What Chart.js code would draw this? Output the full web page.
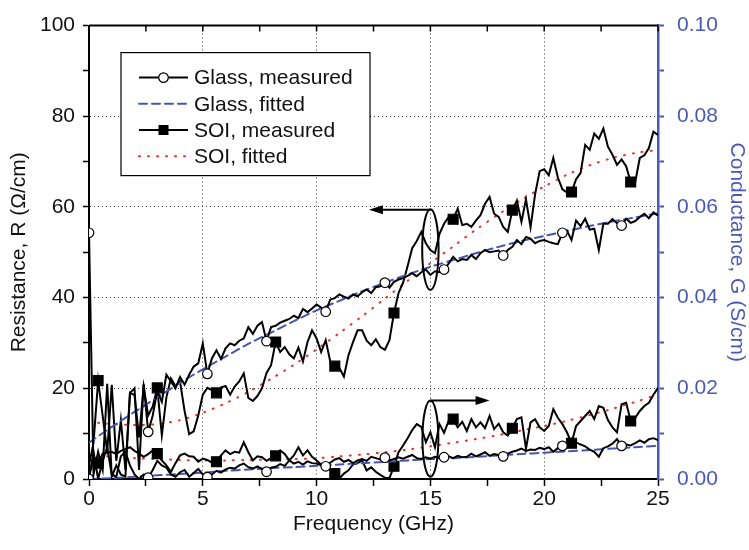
<!DOCTYPE html>
<html>
<head>
<meta charset="utf-8">
<script src="https://cdn.jsdelivr.net/npm/chart.js@4"></script>
<style>
  body { margin: 0; background: #fff; }
  #wrap { width: 749px; height: 550px; }
</style>
</head>
<body>
<div id="wrap"><canvas id="rgChart"></canvas></div>
<script>
// measured sweep, GHz
const freq = [
  0, 0.2, 0.4, 0.6, 0.8, 1, 1.2, 1.4, 1.6, 1.8, 2, 2.2, 2.4, 2.6, 2.8, 3, 3.2, 3.4, 3.6, 3.8,
  4, 4.2, 4.4, 4.6, 4.8, 5, 5.2, 5.4, 5.6, 5.8, 6, 6.2, 6.4, 6.6, 6.8, 7, 7.2, 7.4, 7.6, 7.8,
  8, 8.2, 8.4, 8.6, 8.8, 9, 9.2, 9.4, 9.6, 9.8, 10, 10.2, 10.4, 10.6, 10.8, 11, 11.2, 11.4, 11.6, 11.8,
  12, 12.2, 12.4, 12.6, 12.8, 13, 13.2, 13.4, 13.6, 13.8, 14, 14.2, 14.4, 14.6, 14.8, 15, 15.2, 15.4, 15.6, 15.8,
  16, 16.2, 16.4, 16.6, 16.8, 17, 17.2, 17.4, 17.6, 17.8, 18, 18.2, 18.4, 18.6, 18.8, 19, 19.2, 19.4, 19.6, 19.8,
  20, 20.2, 20.4, 20.6, 20.8, 21, 21.2, 21.4, 21.6, 21.8, 22, 22.2, 22.4, 22.6, 22.8, 23, 23.2, 23.4, 23.6, 23.8,
  24, 24.2, 24.4, 24.6, 24.8, 25
];

// resistance, ohm/cm
const glassR = [
  54.3, 1, 6, 2, 21, 0.5, 3, 1, 0.5, 19, 20, 2, 21, 10.4, 14, 19.5, 17, 23, 21.5, 20,
  22.5, 20.8, 23, 24.8, 25.5, 29.9, 23.2, 26.6, 28.4, 26.5, 28.8, 29.9, 29.5, 30.5, 31, 33.5, 32, 33.8, 34.6, 30.4,
  33.5, 33.8, 34.5, 34.9, 35.3, 36, 35.5, 37.5, 36.8, 37.6, 38.5, 37.8, 36.9, 39.6, 39.9, 40.7, 40.2, 39.8, 40.7, 40.3,
  41.2, 41.8, 41, 42.3, 42.5, 43.3, 42.2, 43.5, 44, 44.3, 44.8, 45.4, 44.7, 45.6, 46.2, 45, 45.8, 45.6, 46.2, 47.5,
  49, 48, 48.5, 48.3, 49.4, 48.5, 49.8, 50.5, 50, 50.2, 50.4, 49.3, 50.5, 51.2, 52.7, 51.8, 53.4, 53, 52, 52.5,
  52.7, 52.3, 52, 51.8, 54.3, 54.8, 52.7, 57, 55.8, 57.4, 55, 55.2, 50.5, 56.3, 56.3, 57.3, 56.4, 55.9, 57.4, 56.5,
  56.9, 57.8, 58.5, 57.5, 58.8, 58.1
];
const soiR = [
  3, 8, 21.7, 14, 6, 20.8, 4, 13, 2, 19, 18.5, 9.2, 20.4, 14, 16, 20.1, 9.6, 18, 22.2, 20.5,
  21.5, 15, 9.9, 10.5, 14, 18.6, 20.1, 19.6, 19, 20.2, 20.5, 18.6, 20.4, 21.5, 23.3, 17.9, 17.2, 18.3, 20, 23.4,
  25.1, 30.2, 28, 29.1, 27.5, 26.6, 29, 25.9, 30.2, 32.8, 31, 28, 30.6, 25.9, 24.9, 24.5, 22.6, 27.3, 30.2, 32.8,
  32.8, 30.5, 29.5, 30.8, 29.1, 28.5, 30.6, 36.6, 41, 43.3, 47, 50.9, 52.5, 54.5, 52, 50.5, 49.8, 54.1, 56.3, 57.8,
  57.3, 59.6, 56, 56.3, 55.6, 57, 58.2, 60.7, 62.2, 58.5, 57.8, 55.6, 54.5, 59.3, 61.4, 56.7, 61.7, 55.5, 62.8, 67.9,
  68.3, 67, 70.8, 66.5, 63.9, 63.2, 63.3, 66.1, 67.5, 73.7, 72.6, 76.2, 75, 77.3, 73.3, 71.5, 69.3, 70.5, 69, 65.5,
  65.5, 70.8, 71.4, 73, 76.6, 75.9
];

// conductance, S/cm
const glassG = [
  0, 0.006, 0, 0.004, 0.007, 0.001, 0.0005, 0.005, 0.006, 0.003, 0.001, 0, 0.001, 0.0003, 0.002, 0.004, 0.003, 0.0025, 0.001, 0.0005,
  0.0015, 0.002, 0.0005, 0.0013, 0.0022, 0.001, 0.0004, 0.001, 0.0018, 0.0014, 0.0021, 0.0025, 0.0023, 0.003, 0.0034, 0.0026, 0.0023, 0.0028, 0.0022, 0.0016,
  0.0025, 0.0027, 0.0033, 0.0029, 0.0041, 0.0034, 0.0038, 0.0032, 0.0039, 0.0035, 0.0034, 0.003, 0.0028, 0.0036, 0.0043, 0.0046, 0.0038, 0.0042, 0.0035, 0.0041,
  0.0044, 0.004, 0.0049, 0.0046, 0.0043, 0.0047, 0.0041, 0.0044, 0.0048, 0.0045, 0.0049, 0.0053, 0.0046, 0.0044, 0.0048, 0.0045, 0.0049, 0.0047, 0.0048, 0.005,
  0.0046, 0.0051, 0.0048, 0.0049, 0.0056, 0.005, 0.0054, 0.0059, 0.0051, 0.0055, 0.0053, 0.005, 0.0056, 0.006, 0.0063, 0.0067, 0.0062, 0.0065, 0.0064, 0.0069,
  0.0066, 0.007, 0.006, 0.0068, 0.0073, 0.0081, 0.0089, 0.0081, 0.0076, 0.0072, 0.0065, 0.006, 0.0049, 0.0068, 0.0072, 0.0078, 0.0088, 0.0073, 0.0076, 0.0074,
  0.0079, 0.0085, 0.008, 0.0088, 0.009, 0.0086
];
const soiG = [
  0.0005, 0.005, 0.0035, 0.0056, 0.0058, 0.006, 0.0055, 0.0062, 0.0066, 0.007, 0.0062, 0.0056, 0.0049, 0.0055, 0.0063, 0.0056, 0.0041, 0.003, 0.0016, 0.0035,
  0.0052, 0.0056, 0.005, 0.0049, 0.0038, 0.0045, 0.0042, 0.0036, 0.0038, 0.0052, 0.0063, 0.0055, 0.006, 0.0058, 0.0081, 0.0059, 0.0041, 0.005, 0.0048, 0.004,
  0.0046, 0.0051, 0.0063, 0.0055, 0.0041, 0.0052, 0.007, 0.0052, 0.0063, 0.0049, 0.0041, 0.0032, 0.0027, 0.002, 0.0012, 0.0001, 0.0012, 0.0019, 0.0032, 0.0035,
  0.0041, 0.0019, 0.0026, 0.0016, 0.0009, 0.0003, 0.0002, 0.0028, 0.0059, 0.0074, 0.009, 0.0108, 0.0121, 0.0115, 0.0081, 0.0103, 0.007, 0.0121, 0.0102, 0.0128,
  0.0132, 0.0114, 0.0126, 0.0106, 0.0132, 0.0114, 0.0125, 0.0112, 0.0139, 0.011, 0.0122, 0.0103, 0.0096, 0.0112, 0.0132, 0.0136, 0.0067, 0.0125, 0.0132, 0.0114,
  0.0106, 0.0117, 0.0154, 0.0135, 0.0121, 0.0103, 0.0079, 0.0117, 0.0128, 0.0139, 0.015, 0.0132, 0.0161, 0.0157, 0.013, 0.0114, 0.0103, 0.0165, 0.0168, 0.0128,
  0.0135, 0.015, 0.0161, 0.0168, 0.0186, 0.0201
];

// fitted curves
const glassFitFreq = [0, 1, 2, 3, 4, 5, 6, 7, 8, 9, 10, 11, 12, 13, 14, 15, 16, 17, 18, 19, 20, 21, 22, 23, 24, 25];
const glassFitR = [8, 11.5, 14.8, 18, 21.2, 24.2, 27, 29.8, 32.3, 34.8, 37.2, 39.3, 41.4, 43.3, 45.1, 46.8, 48.3, 49.8, 51.2, 52.5, 53.6, 54.7, 55.8, 56.8, 57.7, 58.6];
const glassFitG = [0, 0.0002, 0.0005, 0.0008, 0.0011, 0.0014, 0.0018, 0.0021, 0.0024, 0.0026, 0.0029, 0.0032, 0.0035, 0.0038, 0.0041, 0.0044, 0.0046, 0.0049, 0.0052, 0.0055, 0.0058, 0.0061, 0.0064, 0.0067, 0.007, 0.0073];
const soiFitFreq = [0.4, 1, 2, 3, 4, 5, 6, 7, 8, 9, 10, 11, 12, 13, 14, 15, 16, 17, 18, 19, 20, 21, 22, 23, 24, 25];
const soiFitR = [12.4, 12.1, 11.9, 12.1, 13, 14.6, 16.7, 19.2, 22.1, 25.2, 28.6, 32.2, 35.9, 39.8, 43.7, 47.6, 51.3, 55, 58.4, 61.6, 64.5, 67.1, 69.2, 70.8, 71.9, 72.6];
const soiFitG = [0.0052, 0.0049, 0.0046, 0.0044, 0.0042, 0.0041, 0.0041, 0.0042, 0.0043, 0.0044, 0.0046, 0.005, 0.0054, 0.0059, 0.0065, 0.0072, 0.008, 0.0088, 0.0097, 0.0107, 0.0117, 0.0128, 0.0141, 0.0155, 0.017, 0.0186];

const legendLabels = ['Glass, measured', 'Glass, fitted', 'SOI, measured', 'SOI, fitted'];

// ellipse + arrow callouts (data units)
const callouts = [
  { axis: 'y', f: 15, v: 50.6, rf: 0.36, rv: 8.9, arrowTo: 12.3, arrowV: 59.4 },
  { axis: 'y1', f: 15, v: 0.0089, rf: 0.35, rv: 0.0084, arrowTo: 17.6, arrowV: 0.0173 }
];

const BLUE = '#4656b0';
const RED = '#e8302a';
const AXIS_BLUE = '#4a5ab4';
const FONT = "'Liberation Sans', Arial, Helvetica, sans-serif";

function pts(xs, ys) {
  return xs.map((x, i) => ({ x: x, y: ys[i] }));
}

function measured(label, ys, axis, style, offset) {
  return {
    label: label,
    data: pts(freq, ys),
    yAxisID: axis,
    borderColor: '#000',
    borderWidth: 2,
    backgroundColor: style === 'circle' ? '#fff' : '#000',
    pointBorderColor: '#000',
    pointBorderWidth: 1.2,
    pointStyle: style,
    pointRadius: c => (c.dataIndex - offset) % 13 === 0 ? (style === 'rect' ? 7 : 4.8) : 0,
    pointHoverRadius: 0,
    tension: 0
  };
}

function fitted(label, xs, ys, axis, color, dash) {
  return {
    label: label,
    data: pts(xs, ys),
    yAxisID: axis,
    borderColor: color,
    borderWidth: 2,
    borderDash: dash,
    borderCapStyle: 'round',
    pointRadius: 0,
    tension: 0.3
  };
}

const datasets = [
  measured('Glass, measured', glassR, 'y', 'circle', 0),
  fitted('Glass, fitted', glassFitFreq, glassFitR, 'y', BLUE, [8, 5]),
  measured('SOI, measured', soiR, 'y', 'rect', 2),
  fitted('SOI, fitted', soiFitFreq, soiFitR, 'y', RED, [1, 8]),
  measured('Glass G, measured', glassG, 'y1', 'circle', 0),
  fitted('Glass G, fitted', glassFitFreq, glassFitG, 'y1', BLUE, [8, 5]),
  measured('SOI G, measured', soiG, 'y1', 'rect', 2),
  fitted('SOI G, fitted', soiFitFreq, soiFitG, 'y1', RED, [1, 8])
];

function drawArrow(ctx, x0, y0, x1, y1) {
  const dir = Math.sign(x1 - x0);
  ctx.beginPath();
  ctx.moveTo(x0, y0);
  ctx.lineTo(x1 - dir * 10, y1);
  ctx.stroke();
  ctx.beginPath();
  ctx.moveTo(x1, y1);
  ctx.lineTo(x1 - dir * 14, y1 - 4.5);
  ctx.lineTo(x1 - dir * 14, y1 + 4.5);
  ctx.closePath();
  ctx.fill();
}

const extras = {
  id: 'extras',
  afterDatasetsDraw(chart) {
    const { ctx, chartArea: a, scales } = chart;
    const x = scales.x;
    ctx.save();

    // top frame with inward ticks
    ctx.strokeStyle = '#000';
    ctx.lineWidth = 2;
    ctx.beginPath();
    ctx.moveTo(a.left, a.top);
    ctx.lineTo(a.right, a.top);
    ctx.stroke();
    ctx.lineWidth = 1.5;
    ctx.beginPath();
    x.ticks.forEach(t => {
      const px = x.getPixelForValue(t.value);
      ctx.moveTo(px, a.top);
      ctx.lineTo(px, a.top + 6);
    });
    ctx.stroke();

    // callouts
    ctx.lineWidth = 2;
    ctx.fillStyle = '#000';
    callouts.forEach(c => {
      const y = scales[c.axis];
      const cx = x.getPixelForValue(c.f);
      const cy = y.getPixelForValue(c.v);
      const rx = x.getPixelForValue(c.f + c.rf) - cx;
      const ry = cy - y.getPixelForValue(c.v + c.rv);
      ctx.beginPath();
      ctx.ellipse(cx, cy, rx, ry, 0, 0, Math.PI * 2);
      ctx.stroke();
      drawArrow(ctx, cx, y.getPixelForValue(c.arrowV), x.getPixelForValue(c.arrowTo), y.getPixelForValue(c.arrowV));
    });

    // legend box
    const bx = a.left + 32, by = a.top + 27, bw = 249, bh = 123;
    ctx.fillStyle = '#fff';
    ctx.fillRect(bx, by, bw, bh);
    ctx.strokeStyle = '#000';
    ctx.lineWidth = 1.2;
    ctx.strokeRect(bx, by, bw, bh);
    ctx.font = '21px ' + FONT;
    ctx.textBaseline = 'middle';
    legendLabels.forEach((lab, i) => {
      const ds = chart.data.datasets[i];
      const rowY = by + 25 + i * 26.2;
      const x0 = bx + 18, x1 = bx + 67;
      ctx.save();
      ctx.strokeStyle = ds.borderColor;
      ctx.lineWidth = 2;
      ctx.lineCap = ds.borderDash ? 'round' : 'butt';
      ctx.setLineDash(ds.borderDash || []);
      ctx.beginPath();
      ctx.moveTo(x0, rowY);
      ctx.lineTo(x1, rowY);
      ctx.stroke();
      ctx.restore();
      const mx = (x0 + x1) / 2;
      if (ds.pointStyle === 'circle') {
        ctx.beginPath();
        ctx.arc(mx, rowY, 4.8, 0, Math.PI * 2);
        ctx.fillStyle = '#fff';
        ctx.fill();
        ctx.strokeStyle = '#000';
        ctx.lineWidth = 1.2;
        ctx.stroke();
      } else if (ds.pointStyle === 'rect') {
        ctx.fillStyle = '#000';
        ctx.fillRect(mx - 5, rowY - 5, 10, 10);
      }
      ctx.fillStyle = '#111';
      ctx.textAlign = 'left';
      ctx.fillText(lab, bx + 73, rowY + 1);
    });
    ctx.restore();
  }
};

const tickFont = { family: FONT, size: 21 };

new Chart(document.getElementById('rgChart'), {
    type: 'scatter',
    data: { datasets: datasets },
    options: {
        responsive: true,
        maintainAspectRatio: false,
        animation: false,
        events: [],
        showLine: true,
        layout: { padding: { top: 19, left: 0, right: 0, bottom: 0 } },
        plugins: { legend: { display: false }, tooltip: { enabled: false } },
        scales: {
            x: {
                type: 'linear',
                min: 0,
                max: 25,
                afterFit: s => { s.height = 71; },
                ticks: {
                    stepSize: 2.5,
                    color: '#111',
                    font: tickFont,
                    padding: 1,
                    maxRotation: 0,
                    autoSkip: false,
                    callback: v => (v % 5 === 0 ? String(v) : '')
                },
                grid: {
                    color: c => (c.tick && c.tick.value % 5 === 0 && c.tick.value > 0 && c.tick.value < 25 ? '#333' : 'rgba(0,0,0,0)'),
                    lineWidth: 1,
                    tickColor: '#000',
                    tickLength: 7,
                    tickWidth: 1.5,
                    tickBorderDash: []
                },
                border: { display: true, color: '#000', width: 2, dash: [1, 3] },
                title: {
                    display: true,
                    text: 'Frequency (GHz)',
                    color: '#111',
                    font: { family: FONT, size: 21 },
                    padding: { top: 0, bottom: 13 }
                }
            },
            y: {
                position: 'left',
                min: 0,
                max: 100,
                afterFit: s => { s.width = 89; },
                ticks: {
                    stepSize: 10,
                    color: '#111',
                    font: tickFont,
                    padding: 8,
                    autoSkip: false,
                    callback: v => (v % 20 === 0 ? String(v) : '')
                },
                grid: {
                    color: c => (c.tick && c.tick.value % 20 === 0 && c.tick.value > 0 && c.tick.value < 100 ? '#333' : 'rgba(0,0,0,0)'),
                    lineWidth: 1,
                    tickColor: '#000',
                    tickLength: 6,
                    tickWidth: 1.5,
                    tickBorderDash: []
                },
                border: { display: true, color: '#000', width: 2, dash: [1, 3] },
                title: {
                    display: true,
                    text: 'Resistance, R (Ω/cm)',
                    color: '#111',
                    font: { family: FONT, size: 21 },
                    padding: { top: 7, bottom: 0 }
                }
            },
            y1: {
                position: 'right',
                min: 0,
                max: 0.1,
                afterFit: s => { s.width = 91; },
                ticks: {
                    stepSize: 0.01,
                    color: AXIS_BLUE,
                    font: tickFont,
                    padding: 13,
                    autoSkip: false,
                    callback: v => (Math.round(v * 100) % 2 === 0 ? v.toFixed(2) : '')
                },
                grid: {
                    drawOnChartArea: false,
                    color: AXIS_BLUE,
                    tickColor: AXIS_BLUE,
                    tickLength: 6,
                    tickWidth: 2
                },
                border: { display: true, color: AXIS_BLUE, width: 2.5 },
                title: {
                    display: true,
                    text: 'Conductance, G (S/cm)',
                    color: AXIS_BLUE,
                    font: { family: FONT, size: 21 },
                    padding: { top: 0, bottom: 0 }
                }
            }
        }
    },
    plugins: [extras]
});
</script>
</body>
</html>
